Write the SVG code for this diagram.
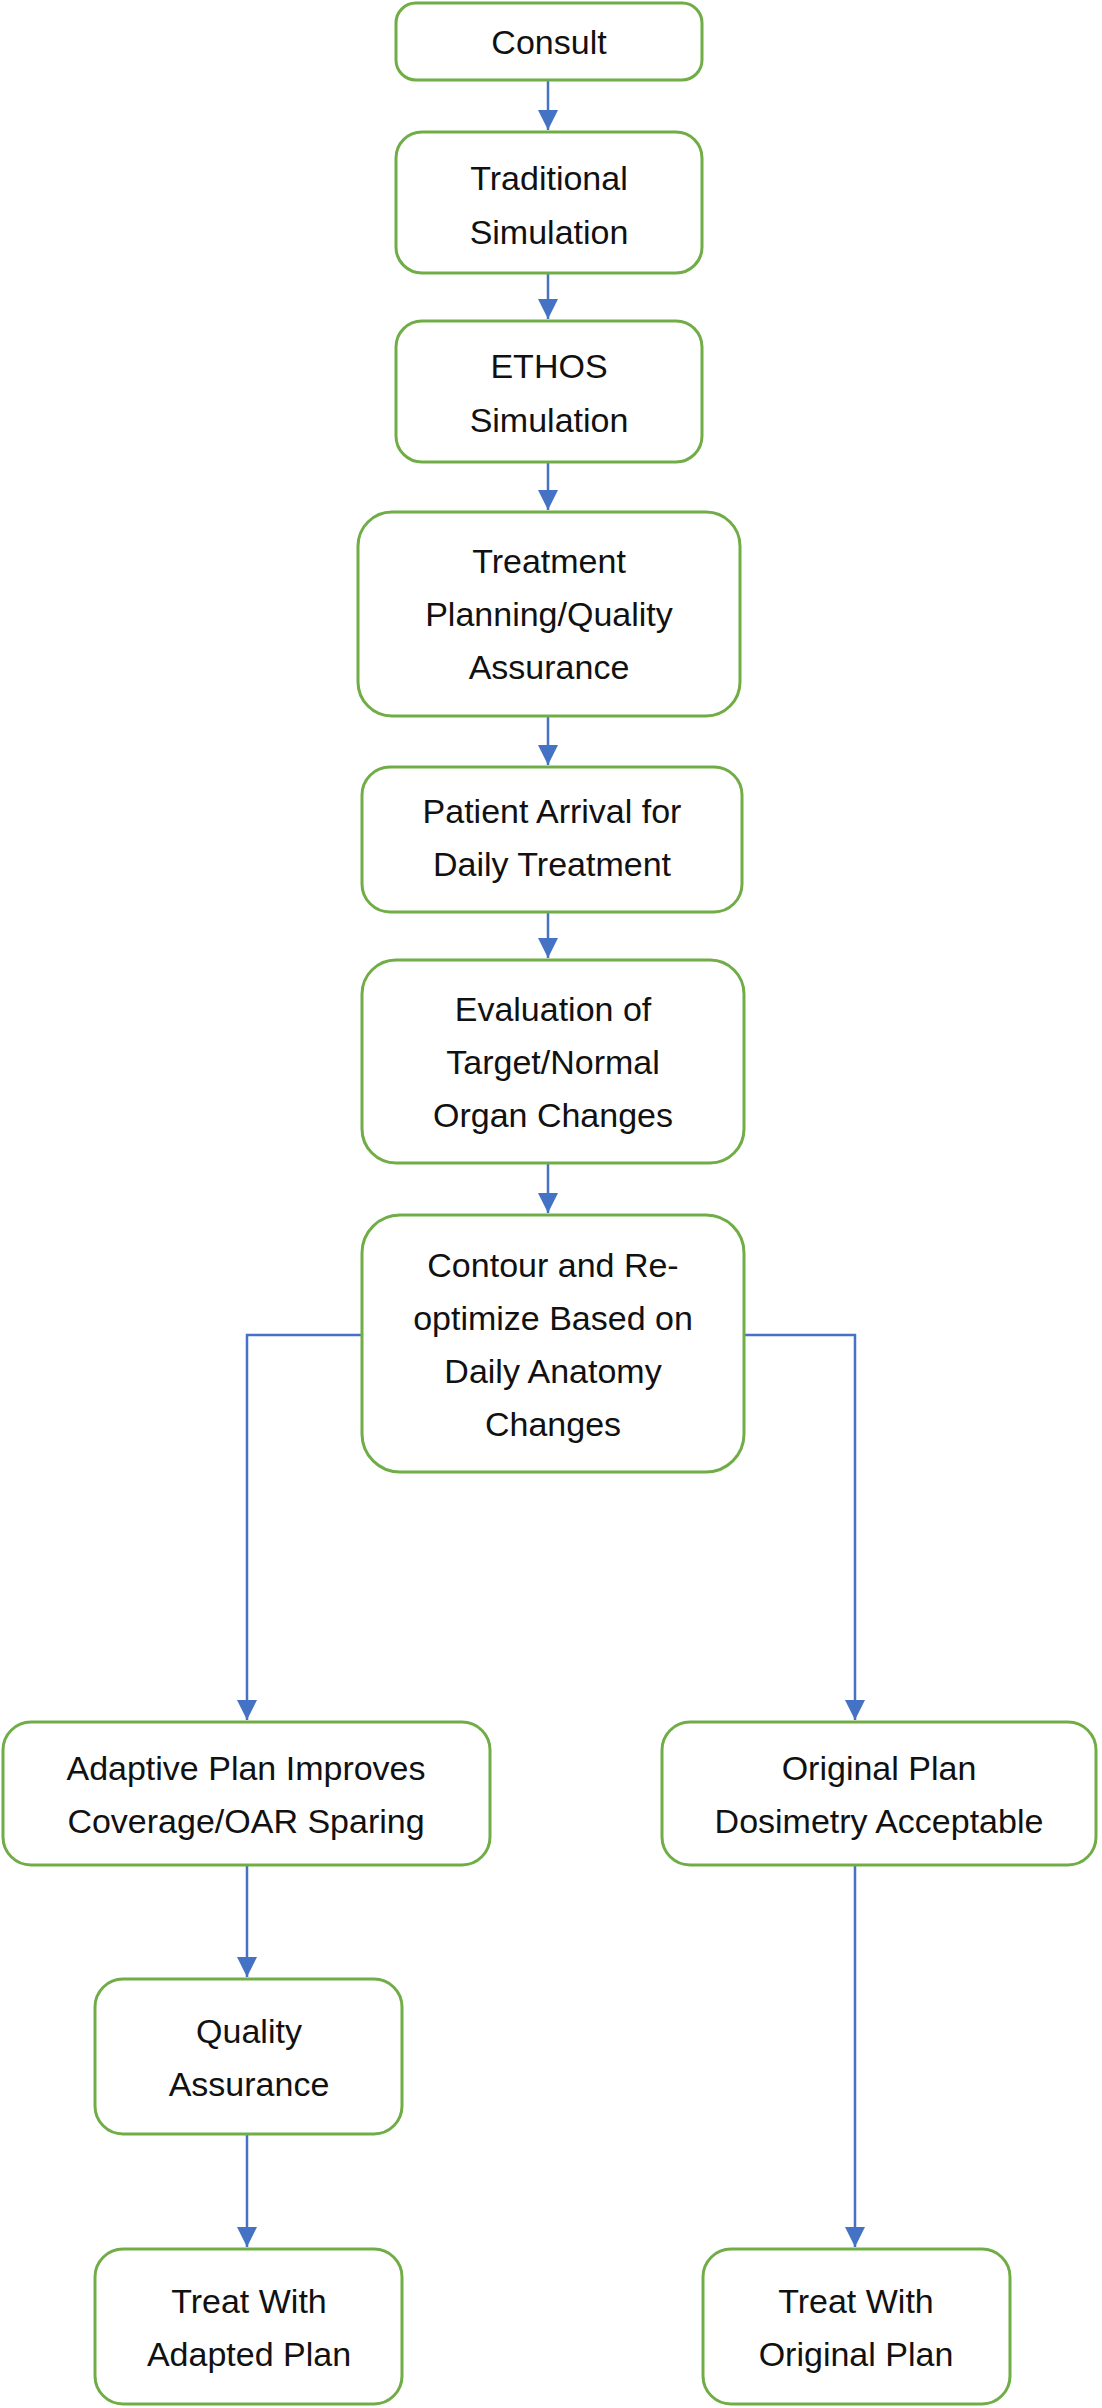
<svg xmlns="http://www.w3.org/2000/svg" width="1102" height="2408" viewBox="0 0 1102 2408">
<style>
.b{fill:#fff;stroke:#70AD47;stroke-width:3}
.t{font-family:"Liberation Sans",Arial,sans-serif;font-size:34px;fill:#111;text-anchor:middle}
.c{fill:none;stroke:#4472C4;stroke-width:2.5}
</style>
<defs><marker id="a" markerUnits="userSpaceOnUse" markerWidth="22" markerHeight="20" refX="20" refY="10" orient="auto"><path d="M0,0 L20,10 L0,20 Z" fill="#4472C4"/></marker></defs>
<rect width="1102" height="2408" fill="#fff"/>
<g id="connectors">
<path class="c" d="M548,80 V130" marker-end="url(#a)"/>
<path class="c" d="M548,273 V319" marker-end="url(#a)"/>
<path class="c" d="M548,462 V510" marker-end="url(#a)"/>
<path class="c" d="M548,716 V765" marker-end="url(#a)"/>
<path class="c" d="M548,912 V958" marker-end="url(#a)"/>
<path class="c" d="M548,1163 V1213" marker-end="url(#a)"/>
<path class="c" d="M362,1335 H247 V1720" marker-end="url(#a)"/>
<path class="c" d="M744,1335 H855 V1720" marker-end="url(#a)"/>
<path class="c" d="M247,1865 V1977" marker-end="url(#a)"/>
<path class="c" d="M247,2134 V2247" marker-end="url(#a)"/>
<path class="c" d="M855,1865 V2247" marker-end="url(#a)"/>
</g>
<g id="n1"><rect class="b" x="396" y="3" width="306" height="77" rx="20"/><text class="t" x="549" y="54">Consult</text></g>
<g id="n2"><rect class="b" x="396" y="132" width="306" height="141" rx="26"/><text class="t" x="549" y="190">Traditional</text><text class="t" x="549" y="244">Simulation</text></g>
<g id="n3"><rect class="b" x="396" y="321" width="306" height="141" rx="26"/><text class="t" x="549" y="378">ETHOS</text><text class="t" x="549" y="432">Simulation</text></g>
<g id="n4"><rect class="b" x="358" y="512" width="382" height="204" rx="34"/><text class="t" x="549" y="573">Treatment</text><text class="t" x="549" y="626">Planning/Quality</text><text class="t" x="549" y="679">Assurance</text></g>
<g id="n5"><rect class="b" x="362" y="767" width="380" height="145" rx="28"/><text class="t" x="552" y="823">Patient Arrival for</text><text class="t" x="552" y="876">Daily Treatment</text></g>
<g id="n6"><rect class="b" x="362" y="960" width="382" height="203" rx="34"/><text class="t" x="553" y="1021">Evaluation of</text><text class="t" x="553" y="1074">Target/Normal</text><text class="t" x="553" y="1127">Organ Changes</text></g>
<g id="n7"><rect class="b" x="362" y="1215" width="382" height="257" rx="38"/><text class="t" x="553" y="1277">Contour and Re-</text><text class="t" x="553" y="1330">optimize Based on</text><text class="t" x="553" y="1383">Daily Anatomy</text><text class="t" x="553" y="1436">Changes</text></g>
<g id="n8"><rect class="b" x="3" y="1722" width="487" height="143" rx="28"/><text class="t" x="246" y="1780">Adaptive Plan Improves</text><text class="t" x="246" y="1833">Coverage/OAR Sparing</text></g>
<g id="n9"><rect class="b" x="662" y="1722" width="434" height="143" rx="28"/><text class="t" x="879" y="1780">Original Plan</text><text class="t" x="879" y="1833">Dosimetry Acceptable</text></g>
<g id="n10"><rect class="b" x="95" y="1979" width="307" height="155" rx="28"/><text class="t" x="249" y="2043">Quality</text><text class="t" x="249" y="2096">Assurance</text></g>
<g id="n11"><rect class="b" x="95" y="2249" width="307" height="155" rx="28"/><text class="t" x="249" y="2313">Treat With</text><text class="t" x="249" y="2366">Adapted Plan</text></g>
<g id="n12"><rect class="b" x="703" y="2249" width="307" height="155" rx="28"/><text class="t" x="856" y="2313">Treat With</text><text class="t" x="856" y="2366">Original Plan</text></g>
</svg>
